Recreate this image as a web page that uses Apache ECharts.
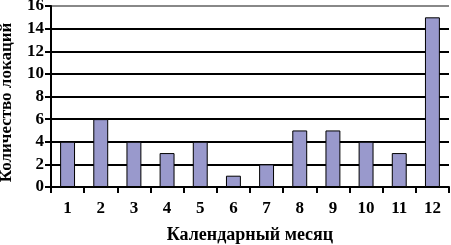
<!DOCTYPE html>
<html><head><meta charset="utf-8">
<script src="https://cdn.jsdelivr.net/npm/echarts@6/dist/echarts.min.js"></script>
<style>html,body{margin:0;padding:0;background:#fff}#c{width:451px;height:245px}</style>
</head><body><div id="c"></div>
<script>
const months = ['1','2','3','4','5','6','7','8','9','10','11','12'];
const counts = [4,6,4,3,4,1,2,5,5,4,3,15];
const yTicks = [0,2,4,6,8,10,12,14,16];
const xTitle = 'Календарный месяц';
const yTitle = 'Количество локаций';
const font = 'Liberation Serif';
const chart = echarts.init(document.getElementById('c'));
chart.setOption({
  animation: false,
  grid: {left: 51, right: 2, top: 6, bottom: 58, containLabel: false, outerBoundsMode: 'none'},
  xAxis: {
    type: 'category', data: months,
    name: xTitle, nameLocation: 'middle', nameGap: 39,
    nameTextStyle: {fontFamily: font, fontWeight: 'bold', fontSize: 18, color: '#000'},
    axisLine: {lineStyle: {color: '#000', width: 2}},
    axisTick: {show: true, length: 6, lineStyle: {color: '#000', width: 2}},
    axisLabel: {fontFamily: font, fontWeight: 'bold', fontSize: 17, color: '#000', margin: 13}
  },
  yAxis: {
    type: 'value', min: 0, max: 16, interval: 2,
    name: yTitle, nameLocation: 'middle', nameGap: 36, nameRotate: 90,
    nameTextStyle: {fontFamily: font, fontWeight: 'bold', fontSize: 17, color: '#000', padding: [0, 12, 0, 0]},
    axisLine: {show: true, lineStyle: {color: '#000', width: 2}},
    axisTick: {show: true, length: 6, lineStyle: {color: '#000', width: 2}},
    axisLabel: {fontFamily: font, fontWeight: 'bold', fontSize: 17, color: '#000', margin: 7,
      formatter: v => yTicks.includes(v) ? String(v) : ''},
    splitLine: {show: true, lineStyle: {color: ['#000','#000','#000','#000','#000','#000','#000','#000','#888'], width: 2}}
  },
  series: [{
    type: 'bar', data: counts, barWidth: '45%',
    itemStyle: {color: '#9999cc', borderColor: '#000', borderWidth: 1}
  }]
});
</script></body></html>
